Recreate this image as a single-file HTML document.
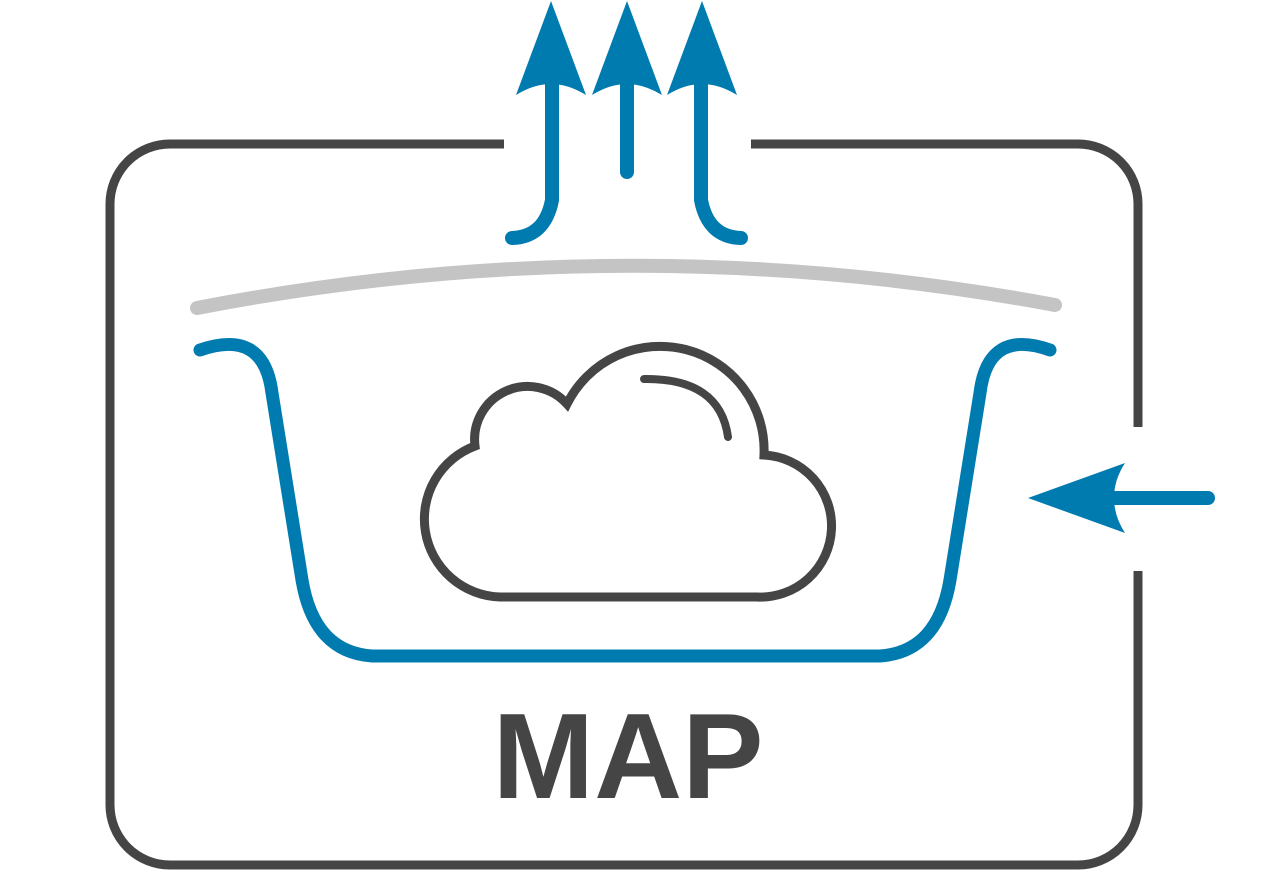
<!DOCTYPE html>
<html><head><meta charset="utf-8"><style>
html,body{margin:0;padding:0;background:#fff;width:1265px;height:874px;overflow:hidden}
svg{display:block}
</style></head><body>
<svg width="1265" height="874" viewBox="0 0 1265 874" xmlns="http://www.w3.org/2000/svg">
<g fill="none" stroke="#454545" stroke-width="9">
<path d="M504 144 H170 A60 60 0 0 0 110 204 V805 A60 60 0 0 0 170 865 H1078 A60 60 0 0 0 1138 805 V571"/>
<path d="M751 144 H1078 A60 60 0 0 1 1138 204 V427"/>
</g>
<path d="M197 308 Q626 225 1055 305" fill="none" stroke="#c4c4c4" stroke-width="14" stroke-linecap="round"/>
<path d="M200 350 Q264 328 272 393 L302 580 Q314 652 372 656 L880 656 Q938 652 950 580 L980 393 Q988 328 1050 350" fill="none" stroke="#007bb0" stroke-width="13" stroke-linecap="round" stroke-linejoin="round"/>
<path d="M500 597 H757 A71 71 0 0 0 764 455 A104 104 0 0 0 567 404 A53 53 0 0 0 475 446 A78 78 0 0 0 500 597 Z" fill="none" stroke="#454545" stroke-width="9"/>
<path d="M644 379 Q720 378 728 437" fill="none" stroke="#454545" stroke-width="8" stroke-linecap="round"/>
<g fill="none" stroke="#007bb0" stroke-width="14" stroke-linecap="round">
<path d="M552 80 V200 Q545 237 512 238"/>
<path d="M627 80 V172"/>
<path d="M701 80 V200 Q708 237 741 238"/>
<path d="M1110 498 H1208"/>
</g>
<g fill="#007bb0">
<path d="M551 1 L586 95 Q568 84 551 84 Q534 84 516 95 Z"/>
<path d="M627 1 L662 95 Q644 84 627 84 Q610 84 592 95 Z"/>
<path d="M702 1 L737 95 Q719 84 702 84 Q685 84 667 95 Z"/>
<path d="M1028 498 L1125 463 Q1114 480 1114 498 Q1114 516 1125 533 Z"/>
</g>
<text x="628" y="798" text-anchor="middle" font-family="Liberation Sans, sans-serif" font-weight="bold" font-size="122" fill="#454545">MAP</text>
</svg>
</body></html>
